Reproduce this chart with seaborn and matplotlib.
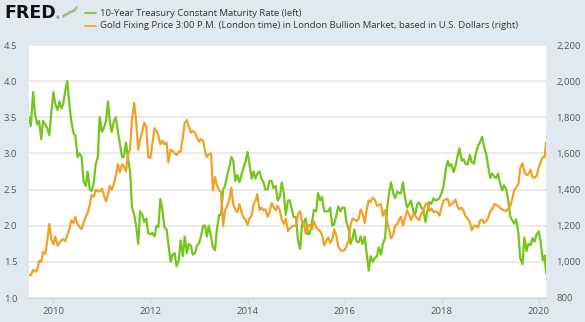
import numpy as np
import pandas as pd
import matplotlib
matplotlib.use("Agg")
import matplotlib.pyplot as plt
import matplotlib.dates as mdates
import matplotlib.ticker as mticker
from matplotlib.lines import Line2D
import seaborn as sns

# ---------------- data (semi-monthly readings, Jul 2009 - Feb 2020) ----------------
t10_2009 = [3.50, 3.38, 3.85, 3.55, 3.40, 3.45, 3.20, 3.45, 3.40, 3.35, 3.25, 3.55]
t10_2010 = [3.85, 3.68, 3.60, 3.72, 3.62, 3.68, 3.88, 4.00, 3.68, 3.45, 3.28, 3.25,
            2.95, 3.00, 2.95, 2.62, 2.55, 2.75, 2.50, 2.48, 2.60, 2.85, 2.95, 3.50]
t10_2011 = [3.30, 3.35, 3.45, 3.72, 3.45, 3.30, 3.45, 3.50, 3.30, 3.15, 2.95, 2.95,
            3.15, 2.95, 2.75, 2.25, 2.15, 2.00, 1.75, 2.20, 2.15, 2.05, 2.10, 1.90]
t10_2012 = [1.88, 1.90, 1.85, 2.00, 1.98, 2.37, 2.20, 1.98, 1.95, 1.75, 1.50, 1.60,
            1.62, 1.44, 1.52, 1.80, 1.58, 1.85, 1.62, 1.75, 1.72, 1.60, 1.62, 1.72]
t10_2013 = [1.76, 1.85, 2.00, 2.00, 1.85, 2.00, 1.85, 1.70, 1.66, 1.95, 2.15, 2.15,
            2.50, 2.55, 2.70, 2.80, 2.95, 2.90, 2.62, 2.70, 2.60, 2.70, 2.80, 2.88]
t10_2014 = [3.02, 2.85, 2.65, 2.75, 2.65, 2.72, 2.75, 2.65, 2.60, 2.50, 2.50, 2.62,
            2.62, 2.52, 2.55, 2.35, 2.40, 2.60, 2.45, 2.15, 2.35, 2.35, 2.22, 2.12]
t10_2015 = [2.12, 1.80, 1.68, 2.02, 2.05, 2.10, 1.88, 1.90, 2.05, 2.22, 2.20, 2.45,
            2.35, 2.40, 2.20, 2.20, 2.20, 2.25, 2.00, 2.02, 2.15, 2.27, 2.20, 2.25]
t10_2016 = [2.25, 2.05, 1.95, 1.75, 1.82, 1.95, 1.78, 1.77, 1.85, 1.75, 1.85, 1.62,
            1.38, 1.58, 1.50, 1.55, 1.58, 1.70, 1.60, 1.75, 1.83, 2.22, 2.45, 2.60]
t10_2017 = [2.45, 2.38, 2.47, 2.45, 2.45, 2.60, 2.38, 2.25, 2.30, 2.35, 2.20, 2.15,
            2.30, 2.32, 2.25, 2.22, 2.05, 2.20, 2.33, 2.30, 2.38, 2.35, 2.36, 2.38]
t10_2018 = [2.46, 2.55, 2.78, 2.90, 2.82, 2.85, 2.74, 2.83, 2.97, 3.07, 2.90, 2.92,
            2.85, 2.85, 2.98, 2.88, 2.86, 3.00, 3.10, 3.15, 3.23, 3.10, 3.00, 2.85]
t10_2019 = [2.66, 2.72, 2.68, 2.66, 2.72, 2.59, 2.49, 2.56, 2.50, 2.38, 2.13, 2.08,
            2.03, 2.09, 1.90, 1.55, 1.47, 1.84, 1.65, 1.75, 1.73, 1.83, 1.78, 1.88]
t10_2020 = [1.92, 1.78, 1.52, 1.59, 1.35]

gold_2009 = [930, 925, 955, 945, 955, 1005, 1000, 1055, 1045, 1115, 1210, 1125]
gold_2010 = [1097, 1140, 1090, 1105, 1120, 1125, 1115, 1150, 1180, 1230, 1215, 1250,
             1210, 1195, 1180, 1215, 1250, 1270, 1315, 1370, 1360, 1400, 1390, 1390]
gold_2011 = [1405, 1370, 1335, 1370, 1420, 1400, 1430, 1475, 1540, 1495, 1540, 1530,
             1500, 1590, 1625, 1790, 1880, 1780, 1620, 1680, 1720, 1770, 1745, 1580]
gold_2012 = [1575, 1650, 1740, 1725, 1700, 1650, 1670, 1650, 1660, 1550, 1620, 1615,
             1600, 1590, 1610, 1610, 1690, 1770, 1785, 1750, 1715, 1725, 1715, 1690]
gold_2013 = [1665, 1680, 1670, 1610, 1580, 1595, 1600, 1395, 1470, 1425, 1395, 1385,
             1200, 1285, 1310, 1340, 1410, 1320, 1290, 1275, 1320, 1280, 1245, 1235]
gold_2014 = [1205, 1240, 1255, 1320, 1335, 1375, 1285, 1300, 1285, 1290, 1250, 1275,
             1325, 1305, 1285, 1310, 1285, 1235, 1210, 1240, 1170, 1185, 1195, 1200]
gold_2015 = [1200, 1265, 1280, 1225, 1210, 1155, 1200, 1205, 1180, 1225, 1190, 1180,
             1170, 1150, 1090, 1115, 1135, 1105, 1125, 1180, 1140, 1085, 1065, 1060]
gold_2016 = [1065, 1085, 1120, 1205, 1240, 1235, 1225, 1235, 1290, 1270, 1215, 1290,
             1340, 1330, 1355, 1345, 1310, 1315, 1320, 1255, 1285, 1225, 1175, 1130]
gold_2017 = [1150, 1200, 1210, 1235, 1250, 1200, 1245, 1285, 1260, 1230, 1265, 1255,
             1240, 1230, 1270, 1280, 1320, 1325, 1280, 1295, 1275, 1280, 1275, 1255]
gold_2018 = [1305, 1340, 1345, 1350, 1310, 1320, 1330, 1345, 1305, 1290, 1300, 1280,
             1250, 1240, 1220, 1175, 1200, 1200, 1190, 1225, 1235, 1215, 1225, 1240]
gold_2019 = [1280, 1290, 1320, 1315, 1310, 1300, 1290, 1285, 1280, 1295, 1310, 1345,
             1400, 1410, 1430, 1520, 1545, 1500, 1480, 1485, 1510, 1470, 1465, 1475]
gold_2020 = [1520, 1550, 1580, 1580, 1660]

series1_label = "10-Year Treasury Constant Maturity Rate (left)"
series2_label = "Gold Fixing Price 3:00 P.M. (London time) in London Bullion Market, based in U.S. Dollars (right)"
left_ticks = [1.0, 1.5, 2.0, 2.5, 3.0, 3.5, 4.0, 4.5]
right_ticks = [800, 1000, 1200, 1400, 1600, 1800, 2000, 2200]

# small decorative logo icon lines
icon_x = [0, 1, 2, 3, 4, 5, 6]
icon_green = [1.0, 2.5, 2.0, 3.5, 3.0, 4.5, 5.5]
icon_gray = [2.0, 1.5, 3.0, 2.5, 4.0, 3.5, 4.8]

t10 = (t10_2009 + t10_2010 + t10_2011 + t10_2012 + t10_2013 + t10_2014 + t10_2015
       + t10_2016 + t10_2017 + t10_2018 + t10_2019 + t10_2020)
gold = (gold_2009 + gold_2010 + gold_2011 + gold_2012 + gold_2013 + gold_2014 + gold_2015
        + gold_2016 + gold_2017 + gold_2018 + gold_2019 + gold_2020)
dates = list(pd.date_range("2009-07-01", periods=len(t10) - 1, freq="SMS")) + [pd.Timestamp("2020-02-25")]

df = pd.DataFrame({"date": dates, "t10": t10, "gold": gold})

# ---------------- style ----------------
GREEN = "#74c61c"
ORANGE = "#f3a126"
BG = "#e1e9f0"
TXT = "#555555"

sns.set_theme(style="white")
plt.rcParams["font.family"] = ["Open Sans", "DejaVu Sans"]

W, H = 585, 322
fig = plt.figure(figsize=(W / 100, H / 100), dpi=100, facecolor=BG)
L, R, T, B = 29, 546, 45, 298
ax = fig.add_axes([L / W, 1 - B / H, (R - L) / W, (B - T) / H])
ax.set_facecolor("white")
ax2 = ax.twinx()
ax2.patch.set_visible(False)

sns.lineplot(data=df, x="date", y="t10", ax=ax, color=GREEN, lw=1.6)
sns.lineplot(data=df, x="date", y="gold", ax=ax2, color=ORANGE, lw=1.6)

ax.set_xlim(df["date"].iloc[0], df["date"].iloc[-1])
ax.set_ylim(left_ticks[0], left_ticks[-1])
ax2.set_ylim(right_ticks[0], right_ticks[-1])
ax.set_yticks(left_ticks)
ax2.set_yticks(right_ticks)
ax.yaxis.set_major_formatter(mticker.FormatStrFormatter("%.1f"))
ax2.yaxis.set_major_formatter(mticker.FuncFormatter(lambda v, p: f"{int(v):,}"))
ax.xaxis.set_major_locator(mdates.YearLocator(2))
ax.xaxis.set_major_formatter(mdates.DateFormatter("%Y"))

for a in (ax, ax2):
    a.set_xlabel("")
    a.set_ylabel("")
    for s in a.spines.values():
        s.set_visible(False)

ax.spines["bottom"].set_visible(True)
ax.spines["bottom"].set_color("#ccd6eb")
ax.spines["bottom"].set_linewidth(1)

ax.yaxis.grid(True, color="#e6e6e6", lw=1.2)
ax.xaxis.grid(False)
ax2.grid(False)

ax.tick_params(axis="y", length=0, pad=8.5, labelsize=6.8, labelcolor=TXT)
ax2.tick_params(axis="y", length=0, pad=7.5, labelsize=6.8, labelcolor=TXT)
ax.tick_params(axis="x", length=3.5, width=1, color="#ccd6eb", pad=3, labelsize=6.8,
               labelcolor=TXT, bottom=True)

# ---------------- header / legend ----------------
fig.text(4 / W, 1 - 13.5 / H, "FRED", fontsize=12.5, fontweight="heavy",
         family=["DejaVu Sans"], color="#111111", va="center", ha="left")
fig.text(56 / W, 1 - 18 / H, "®", fontsize=3, color="#111111", va="center", ha="left")
iax = fig.add_axes([62 / W, 1 - 20 / H, 16 / W, 15 / H])
iax.set_facecolor("#e4e8ec")
iax.plot(icon_x, icon_gray, color="#9aa0a6", lw=0.6)
iax.plot(icon_x, icon_green, color="#7ab648", lw=0.7)
iax.set_xlim(-0.3, 6.3)
iax.set_ylim(0, 6)
iax.set_xticks([])
iax.set_yticks([])
for s in iax.spines.values():
    s.set_visible(False)

fig.add_artist(Line2D([85 / W, 96 / W], [1 - 13 / H] * 2, color=GREEN, lw=1.2))
fig.add_artist(Line2D([85 / W, 96 / W], [1 - 25.5 / H] * 2, color=ORANGE, lw=1.2))
fig.text(100 / W, 1 - 13 / H, series1_label, fontsize=6.8, color="#333333", va="center")
fig.text(100 / W, 1 - 25.5 / H, series2_label, fontsize=6.8, color="#333333", va="center")

fig.savefig("out.png", dpi=100, facecolor=BG)
